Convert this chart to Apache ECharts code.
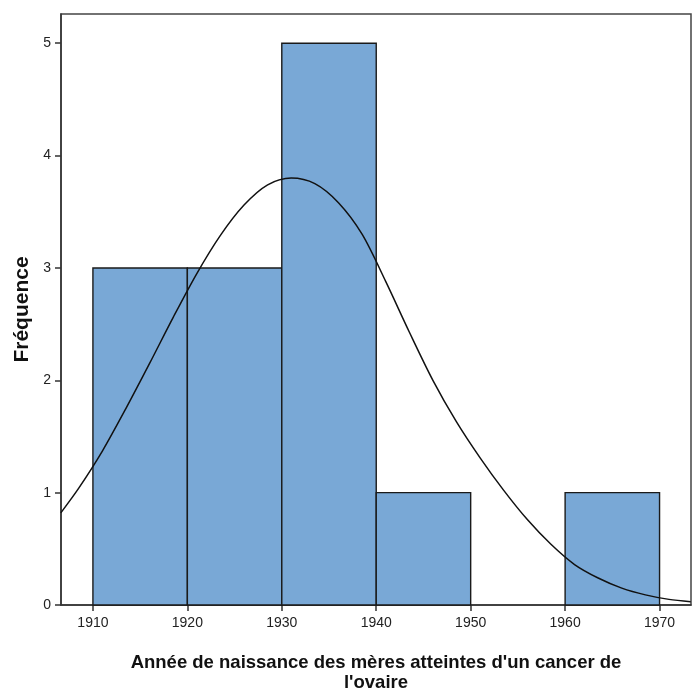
<!DOCTYPE html>
<html>
<head>
<meta charset="UTF-8" />
<script src="https://cdn.jsdelivr.net/npm/echarts@6/dist/echarts.min.js"></script>
<title>Histogramme</title>
<style>
  html, body { margin: 0; padding: 0; background: #fff; }
  #main { width: 700px; height: 691px; }
</style>
</head>
<body>
<div id="main"></div>
<script>
  // classes de l'histogramme (années)
  var binStart = [1910, 1920, 1930, 1940, 1960];
  var binEnd = [1920, 1930, 1940, 1950, 1970];
  var counts = [3, 3, 5, 1, 1];

  // courbe normale
  var curveX = [1906.6, 1908.5, 1911, 1913.5, 1916, 1918.5, 1921, 1923.5, 1926, 1928.5, 1931,
    1933.5, 1936, 1938.5, 1941, 1943.5, 1946, 1948.5, 1951, 1953.5, 1956, 1958.5, 1961,
    1963.5, 1966, 1968.5, 1971, 1973.3];
  var curveY = [0.82, 1.04, 1.37, 1.75, 2.15, 2.56, 2.95, 3.29, 3.56, 3.74, 3.80,
    3.75, 3.58, 3.30, 2.88, 2.43, 2.00, 1.63, 1.31, 1.02, 0.76, 0.54, 0.36,
    0.24, 0.15, 0.09, 0.05, 0.03];

  var xTicks = [1910, 1920, 1930, 1940, 1950, 1960, 1970];
  var yTicks = [0, 1, 2, 3, 4, 5];

  var bars = [];
  for (var i = 0; i < counts.length; i++) {
    bars.push([binStart[i], binEnd[i], counts[i]]);
  }
  var curve = [];
  for (var j = 0; j < curveX.length; j++) {
    curve.push([curveX[j], curveY[j]]);
  }

  var font = '"Liberation Sans", Arial, sans-serif';
  var myChart = echarts.init(document.getElementById('main'));
  var option = {
    animation: false,
    grid: {
      left: 61, top: 14, right: 9, bottom: 86,
      containLabel: false, outerBoundsMode: 'none',
      show: true, borderColor: '#444', borderWidth: 1.5, backgroundColor: '#fff'
    },
    xAxis: {
      type: 'value',
      min: 1906.62, max: 1973.33,
      name: "Année de naissance des mères atteintes d'un cancer de\nl'ovaire",
      nameLocation: 'middle',
      nameGap: 48,
      nameTextStyle: { fontFamily: font, fontSize: 18.5, fontWeight: 'bold', color: '#111', lineHeight: 20 },
      axisLine: { lineStyle: { color: '#333', width: 1.5 } },
      axisTick: { show: true, length: 6, lineStyle: { color: '#333', width: 1.5 }, customValues: xTicks },
      axisLabel: {
        customValues: xTicks, fontFamily: font, fontSize: 14, color: '#222', margin: 11,
        formatter: function (v) { return String(v); }
      },
      splitLine: { show: false }
    },
    yAxis: {
      type: 'value',
      min: 0, max: 5.26,
      name: 'Fréquence',
      nameLocation: 'middle',
      nameGap: 24,
      nameTextStyle: { fontFamily: font, fontSize: 21, fontWeight: 'bold', color: '#111' },
      axisLine: { show: true, lineStyle: { color: '#333', width: 1.5 } },
      axisTick: { show: true, length: 6, lineStyle: { color: '#333', width: 1.5 }, customValues: yTicks },
      axisLabel: { customValues: yTicks, fontFamily: font, fontSize: 14, color: '#222', margin: 10 },
      splitLine: { show: false }
    },
    series: [
      {
        type: 'custom',
        data: bars,
        encode: { x: [0, 1], y: 2 },
        renderItem: function (params, api) {
          var p0 = api.coord([api.value(0), api.value(2)]);
          var p1 = api.coord([api.value(1), 0]);
          return {
            type: 'rect',
            shape: { x: p0[0], y: p0[1], width: p1[0] - p0[0], height: p1[1] - p0[1] },
            style: { fill: '#79a8d6', stroke: '#1a1a1a', lineWidth: 1.4 }
          };
        }
      },
      {
        type: 'line',
        data: curve,
        smooth: 0.3,
        symbol: 'none',
        clip: true,
        lineStyle: { color: '#111', width: 1.5 },
        z: 5
      }
    ]
  };
  myChart.setOption(option);
</script>
</body>
</html>
